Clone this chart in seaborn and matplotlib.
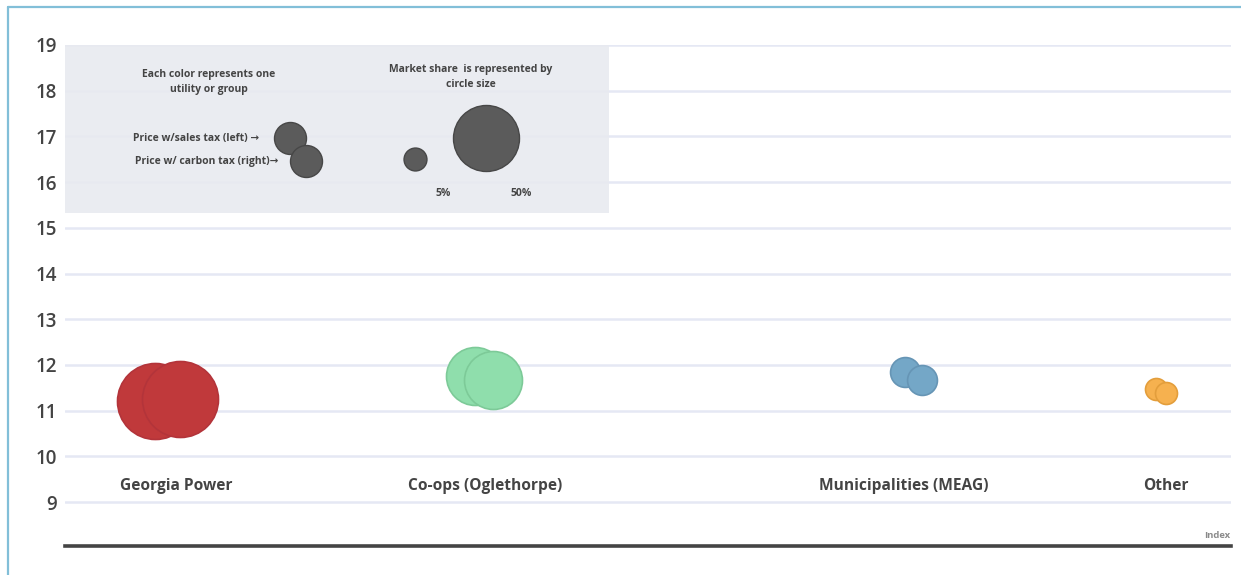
import matplotlib
matplotlib.use("Agg")
import matplotlib.pyplot as plt
import seaborn as sns
import pandas as pd
import numpy as np
from matplotlib.patches import Rectangle
from matplotlib.lines import Line2D

# ---- data ----
utilities = ["Georgia Power", "Co-ops (Oglethorpe)", "Municipalities (MEAG)", "Other"]
market_share = [55, 32, 8.5, 4.6]            # percent
price_sales_tax = [11.21, 11.75, 11.84, 11.48]
price_carbon_tax = [11.25, 11.68, 11.67, 11.39]
index_sales = [7.7, 35.2, 72.0, 93.6]
index_carbon = [9.9, 36.7, 73.5, 94.4]
label_index = [9.5, 36.0, 71.9, 94.4]
colors = ["#c0393b", "#8fdeac", "#74a7c7", "#f6b14f"]
edge_colors = ["#b3343a", "#7dca98", "#6695b5", "#e39e3c"]

legend_shares = [5, 50]
legend_share_labels = ["5%", "50%"]
yticks = [9, 10, 11, 12, 13, 14, 15, 16, 17, 18, 19]

# ---- figure ----
W, H, DPI = 1241, 575, 100
sns.set_theme(style="white")
plt.rcParams["font.family"] = ["Open Sans", "DejaVu Sans"]

fig = plt.figure(figsize=(W / DPI, H / DPI), dpi=DPI)
ax = fig.add_axes([65 / W, 1 - 546 / H, (1231 - 65) / W, (546 - 45) / H])
ax.set_xlim(0, 100)
ax.set_ylim(8.04, 19.0)

# marker size scaling: diameter px = k*sqrt(share)
k_px = 76 / np.sqrt(55)
def size_pts2(share):
    d_pt = k_px * np.sqrt(share) * 72 / DPI
    return d_pt ** 2

df_sales = pd.DataFrame({"x": index_sales, "y": price_sales_tax,
                         "s": [size_pts2(v) for v in market_share], "u": utilities})
df_carbon = pd.DataFrame({"x": index_carbon, "y": price_carbon_tax,
                          "s": [size_pts2(v) for v in market_share], "u": utilities})

# grid lines
for t in yticks:
    ax.axhline(t, color="#e5e8f4", lw=1.8, zorder=0)

# legend box
ax.add_patch(Rectangle((0, 15.33), (609 - 65) / 1166 * 100, 19.0 - 15.33,
                       facecolor="#e8eaf0", edgecolor="none", alpha=0.9, zorder=1))

for df in (df_sales, df_carbon):
    for i, row in df.iterrows():
        ax.scatter(row["x"], row["y"], s=row["s"], color=colors[i],
                   edgecolor=edge_colors[i], linewidth=1.2, zorder=3, clip_on=False)

# category labels
for lab, xi in zip(utilities, label_index):
    ax.text(xi, 9.35, lab, ha="center", va="center", fontsize=11.2,
            fontweight="bold", color="#444444", zorder=4)

# ---- legend content ----
def px_to_x(px):
    return (px - 65) / 1166 * 100
def py_to_y(py):
    return 19 - (py - 45) / 45.7

fs_leg = 7.5
leg_grey = "#5b5b5b"
leg_edge = "#474747"
dsmall = 32 * 72 / DPI
ax.scatter([px_to_x(290)], [16.96], s=dsmall ** 2, color=leg_grey, edgecolor=leg_edge, lw=1.0, zorder=3)
ax.scatter([px_to_x(306)], [16.46], s=dsmall ** 2, color=leg_grey, edgecolor=leg_edge, lw=1.0, zorder=3)
ax.text(px_to_x(259), 16.96, "Price w/sales tax (left) \u2192", ha="right", va="center",
        fontsize=fs_leg, fontweight="bold", color="#444444", zorder=4)
ax.text(px_to_x(278), 16.46, "Price w/ carbon tax (right)\u2192", ha="right", va="center",
        fontsize=fs_leg, fontweight="bold", color="#444444", zorder=4)
ax.text(px_to_x(209), py_to_y(82), "Each color represents one\nutility or group",
        ha="center", va="center", fontsize=fs_leg, fontweight="bold", color="#444444",
        linespacing=1.4, zorder=4)
ax.text(px_to_x(471), py_to_y(77), "Market share  is represented by\ncircle size",
        ha="center", va="center", fontsize=fs_leg, fontweight="bold", color="#444444",
        linespacing=1.4, zorder=4)

leg_x = [px_to_x(415), px_to_x(486)]
leg_y = [16.5, 16.97]
lab_x = [px_to_x(443), px_to_x(521)]
for xs, ys, sh, lx, lt in zip(leg_x, leg_y, legend_shares, lab_x, legend_share_labels):
    ax.scatter([xs], [ys], s=size_pts2(sh) * (0.83 if sh == 50 else 1.0),
               color=leg_grey, edgecolor=leg_edge, lw=1.0, zorder=3)
    ax.text(lx, py_to_y(193), lt, ha="center", va="center", fontsize=fs_leg,
            fontweight="bold", color="#444444", zorder=4)

# axes styling
ax.set_yticks(yticks)
ax.set_yticklabels([str(t) for t in yticks])
ax.set_xticks([])
ax.tick_params(axis="y", length=0, pad=6, labelsize=13.5, labelcolor="#444444")
for lab in ax.get_yticklabels():
    lab.set_fontweight("semibold")
for side in ["left", "right", "top"]:
    ax.spines[side].set_visible(False)
ax.spines["bottom"].set_color("#444444")
ax.spines["bottom"].set_linewidth(2.6)
ax.set_xlabel("")
ax.text(99.95, py_to_y(535), "Index", ha="right", va="center",
        fontsize=6.8, fontweight="bold", color="#8a8a8a")

# border lines of the figure frame
fig.add_artist(Line2D([8 / W, 8 / W], [0, 1 - 7 / H], color="#82bfd8", lw=1.6))
fig.add_artist(Line2D([8 / W, 1], [1 - 7 / H, 1 - 7 / H], color="#82bfd8", lw=1.6))

fig.savefig("out.png", dpi=DPI)
